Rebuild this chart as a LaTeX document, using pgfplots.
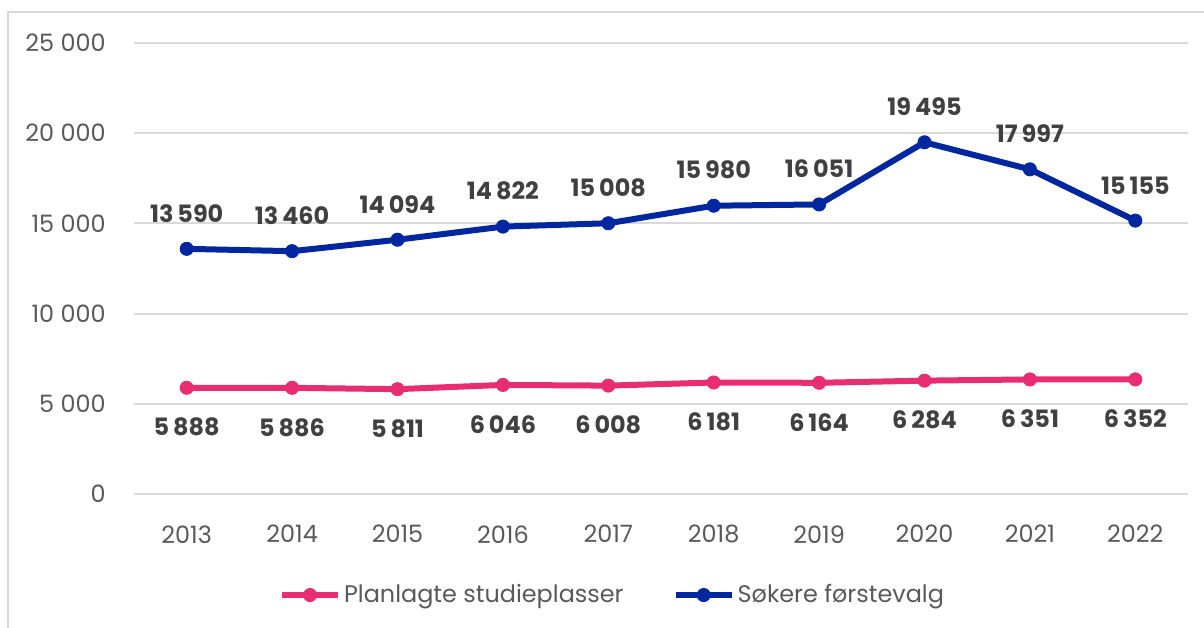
\documentclass[border=0pt]{standalone}
\usepackage{pgfplots}
\pgfplotsset{compat=1.18}
\usepackage{fontspec}
\setmainfont{Poppins}
\definecolor{pinkline}{HTML}{E92D73}
\definecolor{blueline}{HTML}{0026A0}
\definecolor{labelgray}{HTML}{404040}
\definecolor{tickgray}{HTML}{595959}
\definecolor{gridgray}{HTML}{D9D9D9}
\begin{document}
\begin{tikzpicture}
\path[use as bounding box] (0,0) rectangle (602bp,314bp);
\draw[gridgray, line width=1bp] (4bp,-2bp) -- (4bp,308bp) -- (604bp,308bp);
\begin{axis}[
  at={(67bp,67bp)}, anchor=south west,
  scale only axis, width=527bp, height=225.5bp,
  xmin=-0.5, xmax=9.5, ymin=0, ymax=25000,
  xtick={0,...,9},
  xticklabels={2013,2014,2015,2016,2017,2018,2019,2020,2021,2022},
  ytick={0,5000,10000,15000,20000,25000},
  scaled y ticks=false,
  axis line style={draw=none},
  major tick style={draw=none},
  ymajorgrids, grid style={gridgray, line width=1bp},
  /pgf/number format/assume math mode=true,
  yticklabel style={/pgf/number format/1000 sep={\ }, font=\fontsize{12}{14}\selectfont, text=tickgray, anchor=east, inner sep=0pt, xshift=-14bp},
  xticklabel style={font=\fontsize{12}{14}\selectfont, text=tickgray, anchor=north, inner sep=0pt, yshift=-15.5bp},
  legend columns=2,
  legend style={at={(0.4545,-0.224)}, anchor=center, draw=none, fill=none,
    font=\fontsize{12}{14}\selectfont, text=tickgray,
    /tikz/every even column/.append style={column sep=23bp},
    nodes={inner sep=1.5bp}},
  legend image code/.code={\draw[mark repeat=2,mark phase=2] plot coordinates {(0bp,0bp) (14bp,0bp) (28bp,0bp)};},
]
\addplot[pinkline, line width=3bp, mark=*, mark size=3.3bp, mark options={solid, line width=0.4bp},
  nodes near coords, /pgf/number format/1000 sep={\,},
  every node near coord/.append style={anchor=north, yshift=-15bp, inner sep=0pt, font=\fontsize{12}{14}\selectfont\bfseries, text=labelgray}]
  coordinates {(0,5888) (1,5886) (2,5811) (3,6046) (4,6008) (5,6181) (6,6164) (7,6284) (8,6351) (9,6352)};
\addlegendentry{Planlagte studieplasser}
\addplot[blueline, line width=3bp, mark=*, mark size=3.3bp, mark options={solid, line width=0.4bp},
  nodes near coords, /pgf/number format/1000 sep={\,},
  every node near coord/.append style={anchor=south, yshift=13bp, inner sep=0pt, font=\fontsize{12}{14}\selectfont\bfseries, text=labelgray}]
  coordinates {(0,13590) (1,13460) (2,14094) (3,14822) (4,15008) (5,15980) (6,16051) (7,19495) (8,17997) (9,15155)};
\addlegendentry{Søkere førstevalg}
\end{axis}
\end{tikzpicture}
\end{document}
